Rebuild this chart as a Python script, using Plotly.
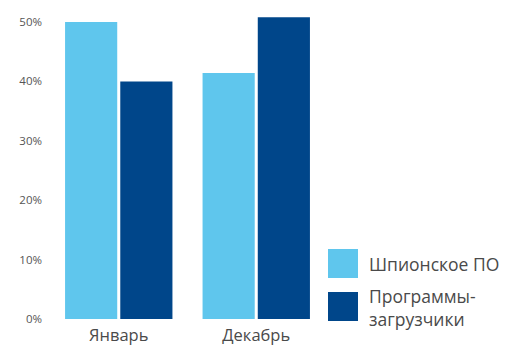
import plotly.graph_objects as go

categories = ["Январь", "Декабрь"]
series_names = ["Шпионское ПО", "Программы-<br>загрузчики"]
spyware = [50.0, 41.4]
downloaders = [40.0, 50.8]
tick_values = [0, 10, 20, 30, 40, 50]
tick_labels = ["0%", "10%", "20%", "30%", "40%", "50%"]
colors = ["#5fc6ed", "#00468a"]

FONT = "Open Sans, Liberation Sans, Arial, sans-serif"

fig = go.Figure()
for name, vals, col in zip(series_names, [spyware, downloaders], colors):
    fig.add_trace(go.Bar(x=categories, y=vals, name=name, marker=dict(color=col, line=dict(width=0)),
                         showlegend=False, hoverinfo="skip"))

fig.update_layout(
    width=510, height=346,
    margin=dict(l=50, r=185, t=15, b=27),
    barmode="group", bargap=0.197, bargroupgap=0.055,
    plot_bgcolor="white", paper_bgcolor="white",
    xaxis=dict(showline=False, showgrid=False, zeroline=False, ticks="", automargin=False,
               ticklabelstandoff=4,
               tickfont=dict(family=FONT, size=16.5, color="#4a4a4a")),
    yaxis=dict(range=[0, 51.18], tickvals=tick_values, ticktext=tick_labels, showgrid=False,
               zeroline=False, showline=False, ticks="", ticklabelstandoff=7, automargin=False,
               tickfont=dict(family=FONT, size=11.5, color="#555555")),
)

def py(ypx):
    return (319 - ypx) / 304

def px(xpx):
    return (xpx - 50) / 275

# manual legend
legend_y = [(249, 278), (292, 321)]
text_centers = [264, 307]
for i, (name, col) in enumerate(zip(series_names, colors)):
    y0, y1 = legend_y[i]
    fig.add_shape(type="rect", xref="paper", yref="paper",
                  x0=px(328), x1=px(358), y0=py(y1), y1=py(y0),
                  fillcolor=col, line=dict(width=0))
    fig.add_annotation(xref="paper", yref="paper", x=px(367), y=py(text_centers[i]),
                       xanchor="left", yanchor="middle", text=name, showarrow=False, align="left",
                       font=dict(family=FONT, size=17.5, color="#4a4a4a"))

fig.write_html("out.html", config={"displayModeBar": False},
               post_script="document.body.style.margin='0';")
